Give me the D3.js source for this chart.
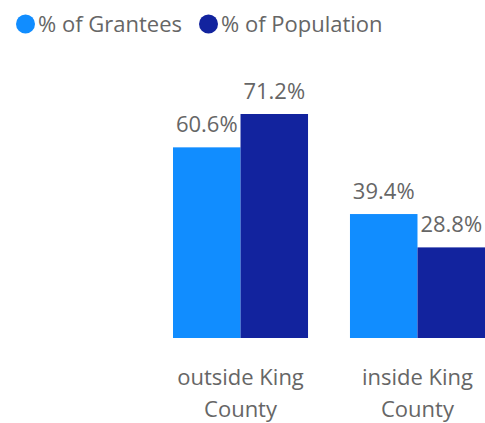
<!DOCTYPE html>
<html>
<head>
<meta charset="utf-8">
<script src="https://cdn.jsdelivr.net/npm/d3@7"></script>
<style>
  body { margin: 0; background: #fff; }
  text { font-family: 'Open Sans', sans-serif; fill: #666; }
</style>
</head>
<body>
<svg id="chart" width="485" height="423"></svg>
<script>
const categories = ['outside King County', 'inside King County'];
const seriesNames = ['% of Grantees', '% of Population'];
const grantees = [60.6, 39.4];
const population = [71.2, 28.8];
const colors = ['#118DFF', '#12239E'];

const svg = d3.select('#chart');

// legend
const legendX = [16, 199];
seriesNames.forEach((name, i) => {
  const g = svg.append('g').attr('transform', `translate(${legendX[i]},24)`);
  g.append('circle').attr('cx', 9.5).attr('cy', 0).attr('r', 9.5).attr('fill', colors[i]);
  g.append('text').attr('x', 22).attr('y', 8).attr('font-size', 22).text(name);
});

// scales
const x = d3.scaleBand().domain(categories).range([173, 485]).paddingInner(0.237).paddingOuter(0);
const xs = d3.scaleBand().domain(seriesNames).range([0, x.bandwidth()]);
const y = d3.scaleLinear().domain([0, 71.2]).range([338, 114]);

const rows = categories.map((c, i) => ({ cat: c, values: [grantees[i], population[i]] }));

const groups = svg.selectAll('.grp')
  .data(rows)
  .enter()
  .append('g')
  .attr('transform', d => `translate(${x(d.cat)},0)`);

groups.selectAll('rect')
  .data(d => d.values.map((v, j) => ({ key: seriesNames[j], v, j })))
  .enter()
  .append('rect')
  .attr('x', d => xs(d.key))
  .attr('y', d => y(d.v))
  .attr('width', xs.bandwidth())
  .attr('height', d => y(0) - y(d.v))
  .attr('fill', d => colors[d.j]);

groups.selectAll('.lbl')
  .data(d => d.values.map((v, j) => ({ key: seriesNames[j], v, j })))
  .enter()
  .append('text')
  .attr('x', d => xs(d.key) + xs.bandwidth() / 2)
  .attr('y', d => y(d.v) - 15)
  .attr('text-anchor', 'middle')
  .attr('font-size', 22)
  .text(d => d.v.toFixed(1) + '%');

// category axis, labels wrapped over two lines
const axis = svg.append('g')
  .attr('transform', 'translate(0,338)')
  .call(d3.axisBottom(x).tickSize(0));
axis.select('.domain').remove();
axis.attr('font-family', null).attr('font-size', null);
axis.selectAll('.tick text').each(function(d) {
  const t = d3.select(this);
  const words = d.split(' ');
  const lines = [words.slice(0, 2).join(' '), words.slice(2).join(' ')];
  t.text(null)
    .attr('font-size', 22)
    .attr('fill', '#666')
    .attr('dy', null)
    .attr('y', 0);
  lines.forEach((ln, k) => {
    t.append('tspan').attr('x', 0).attr('y', 47 + k * 32).text(ln);
  });
});
</script>
</body>
</html>
